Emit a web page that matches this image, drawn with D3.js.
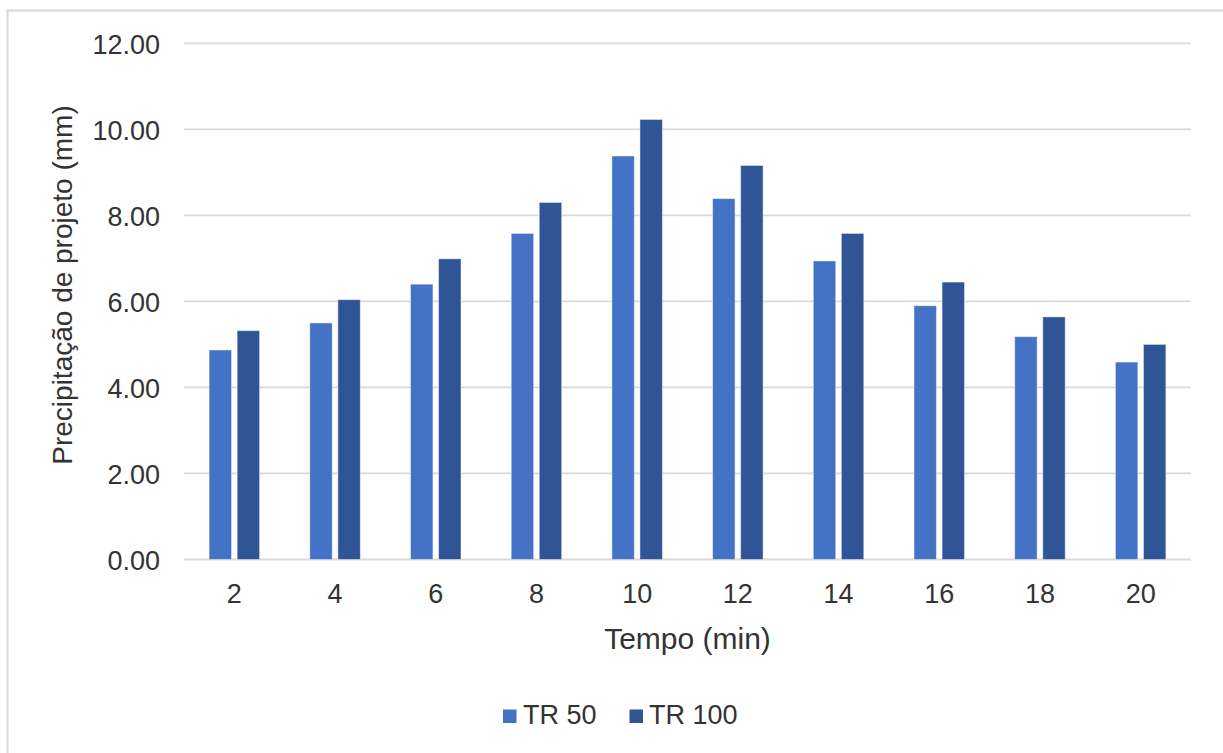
<!DOCTYPE html>
<html>
<head>
<meta charset="utf-8">
<script src="https://cdn.jsdelivr.net/npm/d3@7"></script>
<style>
  html, body { margin: 0; padding: 0; background: #fff; }
  svg { display: block; font-family: "Liberation Sans", Arial, sans-serif; }
</style>
</head>
<body>
<svg id="chart" width="1223" height="753"></svg>
<script>
const categories = ["2", "4", "6", "8", "10", "12", "14", "16", "18", "20"];
const seriesNames = ["TR 50", "TR 100"];
const tr50  = [4.87, 5.50, 6.40, 7.58, 9.38, 8.39, 6.94, 5.90, 5.18, 4.59];
const tr100 = [5.32, 6.04, 6.99, 8.30, 10.23, 9.16, 7.58, 6.45, 5.64, 5.00];
const yTicks = [0, 2, 4, 6, 8, 10, 12];
const colors = ["#4472C4", "#2F5597"];

const svg = d3.select("#chart");
const W = 1223, H = 753;
const plot = { left: 184, right: 1191, top: 43.3, bottom: 559.5 };

// chart border
svg.append("rect")
  .attr("x", 7.5).attr("y", 10.5)
  .attr("width", 1240).attr("height", 760)
  .attr("fill", "#fff")
  .attr("stroke", "#d9d9d9").attr("stroke-width", 2);

const x0 = d3.scaleBand().domain(categories)
  .range([plot.left, plot.right]).paddingInner(0.5).paddingOuter(0.25);
const groupW = 50.5;
const x1 = d3.scaleBand().domain(seriesNames)
  .range([0, groupW]).paddingInner(0.2).paddingOuter(0);
const y = d3.scaleLinear().domain([0, 12]).range([plot.bottom, plot.top]);

// gridlines
svg.append("g")
  .selectAll("line").data(yTicks).join("line")
  .attr("x1", plot.left).attr("x2", plot.right)
  .attr("y1", d => y(d)).attr("y2", d => y(d))
  .attr("stroke", "#d9d9d9").attr("stroke-width", 1.8);

// y tick labels
const yAxis = d3.axisLeft(y).tickValues(yTicks).tickFormat(d3.format(".2f")).tickSize(0).tickPadding(0);
const gy = svg.append("g").attr("transform", `translate(160,0)`).call(yAxis);
gy.select(".domain").remove();
gy.selectAll("text")
  .attr("font-size", 27).attr("fill", "#333")
  .attr("font-family", "Liberation Sans, Arial, sans-serif")
  .attr("dy", "0.36em");

// bars
const data = categories.map((c, i) => ({ cat: c, vals: [tr50[i], tr100[i]] }));
const groups = svg.append("g").selectAll("g").data(data).join("g")
  .attr("transform", d => `translate(${x0(d.cat) + (x0.bandwidth() - groupW) / 2},0)`);
groups.selectAll("rect")
  .data(d => d.vals.map((v, j) => ({ s: seriesNames[j], v, j })))
  .join("rect")
  .attr("x", d => x1(d.s))
  .attr("width", x1.bandwidth())
  .attr("y", d => y(d.v))
  .attr("height", d => y(0) - y(d.v))
  .attr("fill", d => colors[d.j])
  .attr("stroke", "#ffffff").attr("stroke-opacity", 0.45).attr("stroke-width", 1);

// x tick labels
const xAxis = d3.axisBottom(x0).tickSize(0).tickPadding(0);
const gx = svg.append("g").attr("transform", `translate(0,603)`).call(xAxis);
gx.select(".domain").remove();
gx.selectAll("text")
  .attr("font-size", 27).attr("fill", "#333")
  .attr("font-family", "Liberation Sans, Arial, sans-serif")
  .attr("dy", 0).attr("y", 0);

// axis titles
svg.append("text")
  .attr("x", (plot.left + plot.right) / 2).attr("y", 649)
  .attr("text-anchor", "middle")
  .attr("font-size", 30).attr("fill", "#333")
  .text("Tempo (min)");

svg.append("text")
  .attr("transform", "translate(72,285) rotate(-90)")
  .attr("text-anchor", "middle")
  .attr("font-size", 28).attr("fill", "#333")
  .text("Precipitação de projeto (mm)");

// legend
const legendItems = [
  { name: seriesNames[0], color: colors[0], sx: 503, tx: 523 },
  { name: seriesNames[1], color: colors[1], sx: 629.5, tx: 649 }
];
const lg = svg.append("g");
lg.selectAll("rect").data(legendItems).join("rect")
  .attr("x", d => d.sx).attr("y", 709.5).attr("width", 13.5).attr("height", 13.5)
  .attr("fill", d => d.color);
lg.selectAll("text").data(legendItems).join("text")
  .attr("x", d => d.tx).attr("y", 723.5)
  .attr("font-size", 27).attr("fill", "#333")
  .text(d => d.name);
</script>
</body>
</html>
